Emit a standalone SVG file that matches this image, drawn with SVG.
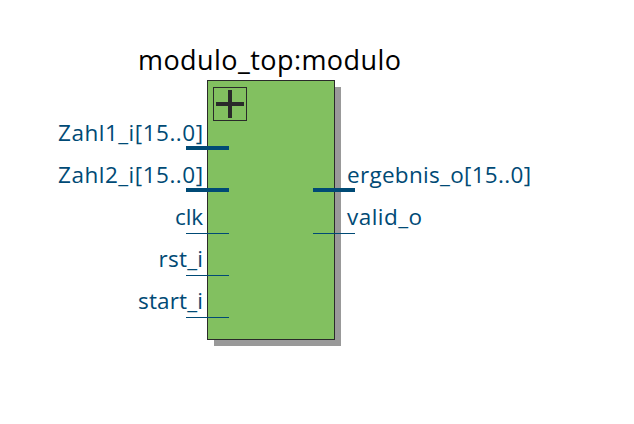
<svg xmlns="http://www.w3.org/2000/svg" width="634" height="424" viewBox="0 0 634 424">
<style>
text{font-family:"Open Sans","Noto Sans",sans-serif;font-size:22.5px;fill:#004a75}
.t{fill:#000;font-size:27px}
.bus{stroke:#004a75;stroke-width:4;fill:none}
.wire{stroke:#004a75;stroke-width:1;fill:none}
</style>
<rect width="634" height="424" fill="#fff"/>
<g id="modulo">
<rect x="214" y="87" width="127" height="259" fill="#999"/>
<rect x="207.500" y="80.500" width="127" height="259" fill="#82c060" stroke="#2a2a2a" stroke-width="1"/>
<rect x="213.500" y="87.500" width="33" height="33" fill="none" stroke="#2a2a2a" stroke-width="1"/>
<path d="M230 90V118M216 104H244" stroke="#2a2a2a" stroke-width="4" fill="none"/>
<text class="t" x="138" y="69.500" textLength="263" lengthAdjust="spacing">modulo_top:modulo</text>
</g>
<g id="connectors">
<path class="bus" d="M186 148H229M186 190H229M313 190H355"/>
<path class="wire" d="M186 233.500H229M186 275.500H229M186 317.500H229M313 233.500H355"/>
</g>
<g id="ports">
<text x="58" y="140.500" textLength="145" lengthAdjust="spacing">Zahl1_i[15..0]</text>
<text x="58" y="182.500" textLength="145" lengthAdjust="spacing">Zahl2_i[15..0]</text>
<text x="175" y="225" textLength="28" lengthAdjust="spacing">clk</text>
<text x="158.500" y="267" textLength="44.500" lengthAdjust="spacing">rst_i</text>
<text x="138" y="309" textLength="65" lengthAdjust="spacing">start_i</text>
<text x="347" y="182.500" textLength="184" lengthAdjust="spacing">ergebnis_o[15..0]</text>
<text x="347" y="225" textLength="75" lengthAdjust="spacing">valid_o</text>
</g>
</svg>
